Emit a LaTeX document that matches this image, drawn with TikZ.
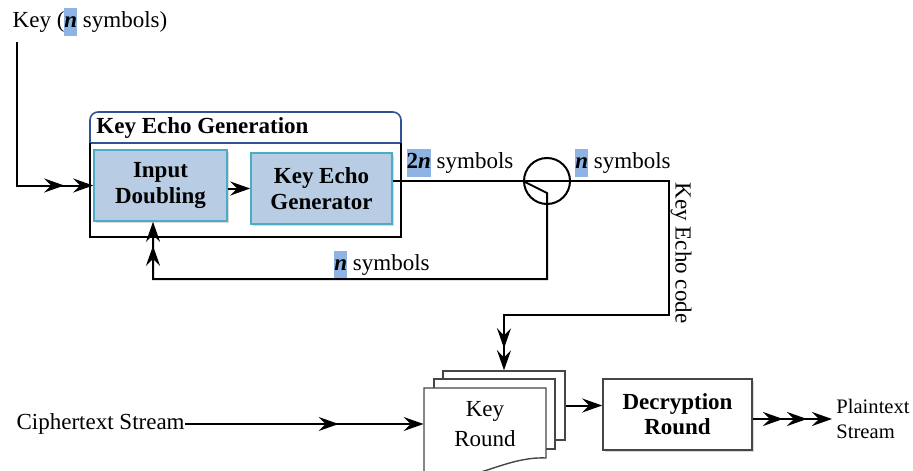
\documentclass[tikz,border=0pt]{standalone}
\usepackage{fontspec}
\setmainfont{Liberation Serif}
\usetikzlibrary{arrows.meta,decorations.markings,shadows,calc}
\definecolor{hlblue}{RGB}{141,180,226}
\definecolor{boxfill}{RGB}{184,204,228}
\definecolor{boxedge}{RGB}{75,172,198}
\definecolor{titleedge}{RGB}{47,84,150}
\definecolor{pagegray}{RGB}{70,70,70}
\newcommand\hlsym[1]{{\setlength{\fboxsep}{0pt}\colorbox{hlblue}{\strut\textbf{#1}}}}
\tikzset{
  txt/.style={inner sep=0pt, font=\fontsize{11.5}{14}\selectfont},
  conn/.style={line width=1pt},
  arr/.style={conn,->},
  arrtwo/.style={conn,->,postaction={decorate,decoration={markings,mark=at position -#1 with {\arrow{>}}}}},
  arrthree/.style 2 args={conn,->,postaction={decorate,decoration={markings,mark=at position -#1 with {\arrow{>}},mark=at position -#2 with {\arrow{>}}}}},
  bluebox/.style={draw=boxedge, fill=boxfill, line width=0.8pt, align=center, inner sep=0pt,
    font=\fontsize{11.5}{13}\selectfont\bfseries,
    drop shadow={shadow xshift=1pt, shadow yshift=-1pt, opacity=0.3}},
  decbox/.style={draw=pagegray, fill=white, line width=0.8pt, align=center, inner sep=0pt,
    font=\fontsize{11.5}{12.5}\selectfont\bfseries,
    drop shadow={shadow xshift=1pt, shadow yshift=-1pt, opacity=0.3}},
  pagebox/.style={draw=pagegray, fill=white, line width=0.7pt, inner sep=0pt},
}
\begin{document}
\begin{tikzpicture}[x=0.5pt,y=-0.5pt, >={Stealth[length=10pt,width=7pt,inset=3.5pt]}]
\useasboundingbox (0,0) rectangle (913,470);

% key input
\node[txt] (keyin) at (90,22) {Key (\hlsym{\textit{n}} symbols)};
\coordinate (kstart) at (17,42);

% group box
\draw[titleedge, line width=0.8pt] (90,143) [rounded corners=4pt] -- (90,112) -- (401,112) [sharp corners] -- (401,143);
\draw[titleedge, line width=0.8pt] (90,143) -- (401,143);
\draw[black, line width=0.8pt] (90,143) -- (90,237) -- (401,237) -- (401,143);
\node[txt, anchor=west, font=\fontsize{11.5}{14}\selectfont\bfseries] (kegtitle) at (96,128) {Key Echo Generation};

\node[bluebox, minimum width=66.5pt, minimum height=35.5pt] (inpd) at (160.5,185.5) {Input\\Doubling};
\node[bluebox, minimum width=70.5pt, minimum height=35.5pt] (keg) at (321.5,188.5) {Key Echo\\Generator};

% split
\node[circle, draw, line width=1pt, minimum size=23pt, inner sep=0pt] (split) at (547,181) {};

% labels
\node[txt] (l2n) at (460,163) {\hlsym{2\textit{n}} symbols};
\node[txt] (lnr) at (623,163) {\hlsym{\textit{n}} symbols};
\node[txt] (lnb) at (382,265) {\hlsym{\textit{n}} symbols};
\node[txt, rotate=-90] (kec) at (681,253) {Key Echo code};

% key round stack
\node[pagebox, minimum width=61pt, minimum height=34.5pt] (kr3) at (504,405.5) {};
\node[pagebox, minimum width=60.5pt, minimum height=35pt] (kr2) at (494.5,414) {};
\filldraw[fill=white, draw=pagegray, line width=0.7pt] (424,388) -- (546,388) -- (546,458)
  .. controls (505,456) and (470,485) .. (424,480) -- cycle;
\node[txt, minimum width=61pt, minimum height=36pt, align=center, font=\fontsize{11.5}{15}\selectfont] (kr1) at (485,424) {Key\\Round};

\node[decbox, minimum width=74.5pt, minimum height=35.5pt] (dec) at (677.5,414.5) {Decryption\\Round};

\node[txt, anchor=west, align=left, font=\fontsize{10.3}{12.5}\selectfont] (plain) at (836,419) {Plaintext\\Stream};
\node[txt, anchor=east] (cipher) at (185,424) {Ciphertext Stream};

% coordinates for routing
\coordinate (kecR) at (669,181);
\coordinate (kecB) at (669,315);
\coordinate (fbx) at (153,279);

% connectors
\draw[arrtwo=14.5pt] (kstart) |- (inpd.west);
\draw[arr] (inpd.east |- keg.center) -- (keg.west);
\draw[arrtwo=11pt] (keg.east |- split.center) -- (kecR) -- (kecB) -| (kr3.north);
\draw[arrtwo=12pt] (split.west) -- ($(split.center)+(0,12)$) -- (split.center |- fbx) -- (fbx) -- (fbx |- inpd.south);
\draw[arrtwo=42.5pt] (cipher.east) -- (kr1.west);
\draw[arr] (kr3.east) -- (kr3.east -| dec.west);
\draw[arrthree={12.5pt}{24.5pt}] (dec.east |- plain.west) -- ([xshift=-2pt]plain.west);
\end{tikzpicture}
\end{document}
